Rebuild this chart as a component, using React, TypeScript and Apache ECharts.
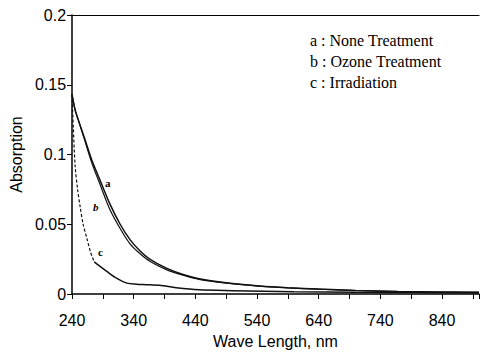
import React, { useEffect, useRef } from "react";
import * as echarts from "echarts";

const wlAB = [240, 245, 250, 260, 272, 285, 301, 318, 334, 350, 366, 393, 420, 446, 490, 543, 590, 640, 700, 769, 830, 900];
const seriesA = [0.143, 0.132, 0.125, 0.112, 0.096, 0.082, 0.065, 0.05, 0.039, 0.031, 0.025, 0.0185, 0.014, 0.011, 0.008, 0.0058, 0.0045, 0.0035, 0.0025, 0.0018, 0.0015, 0.0012];
const seriesB = [0.143, 0.132, 0.125, 0.111, 0.094, 0.079, 0.061, 0.047, 0.036, 0.029, 0.0235, 0.0175, 0.0135, 0.0105, 0.0078, 0.0056, 0.0044, 0.0034, 0.0025, 0.0018, 0.0014, 0.0011];
const wlCHead = [240, 242, 245, 249, 253, 258, 264, 270, 276];
const seriesCHead = [0.143, 0.12, 0.092, 0.075, 0.063, 0.05, 0.04, 0.03, 0.023];
const wlCTail = [276, 285, 297, 312, 329, 345, 360, 382, 409, 446, 500, 600, 700, 800, 900];
const seriesCTail = [0.023, 0.02, 0.016, 0.0114, 0.0078, 0.007, 0.0067, 0.0062, 0.0045, 0.003, 0.0024, 0.0016, 0.0012, 0.001, 0.0008];
const legendLines = ["a : None Treatment", "b : Ozone Treatment", "c : Irradiation"];
const curveTags = ["a", "b", "c"];

const zip = (xs: number[], ys: number[]) => xs.map((x, i) => [x, ys[i]]);

export default function App() {
  const ref = useRef<HTMLDivElement>(null);
  useEffect(() => {
    if (!ref.current) return;
    const chart = echarts.init(ref.current, undefined, { renderer: "svg" });
    const lineStyle = { color: "#111", width: 1.5 };
    const axisText = { color: "#000", fontFamily: "Liberation Sans, Arial, sans-serif", fontSize: 16 };
    chart.setOption({
      animation: false,
      backgroundColor: "#fff",
      grid: { left: 72, right: 1, top: 15, bottom: 58, containLabel: false },
      xAxis: [
        {
          type: "value",
          min: 240,
          max: 900,
          interval: 50,
          name: "Wave Length, nm",
          nameLocation: "middle",
          nameGap: 39,
          nameTextStyle: { ...axisText },
          axisLine: { lineStyle: { color: "#000", width: 1.5 } },
          axisTick: { show: true, length: 5, lineStyle: { color: "#000" } },
          axisLabel: {
            ...axisText,
            margin: 18,
            formatter: (v: number) => ((v - 240) % 100 === 0 ? String(v) : ""),
          },
          splitLine: { show: false },
        },
        {
          type: "value",
          position: "top",
          min: 240,
          max: 900,
          axisLine: { show: true, onZero: false, lineStyle: { color: "#000", width: 1.2 } },
          axisTick: { show: false },
          axisLabel: { show: false },
          splitLine: { show: false },
        },
      ],
      yAxis: {
        type: "value",
        min: 0,
        max: 0.2,
        interval: 0.05,
        name: "Absorption",
        nameLocation: "middle",
        nameGap: 47,
        nameTextStyle: { ...axisText },
        axisLine: { show: true, lineStyle: { color: "#000", width: 1.5 } },
        axisTick: { show: true, length: 5, lineStyle: { color: "#000" } },
        axisLabel: { ...axisText, margin: 6 },
        splitLine: { show: false },
      },
      series: [
        { type: "line", name: "a", data: zip(wlAB, seriesA), showSymbol: false, smooth: 0.3, lineStyle },
        { type: "line", name: "b", data: zip(wlAB, seriesB), showSymbol: false, smooth: 0.3, lineStyle: { ...lineStyle, width: 1.2 } },
        { type: "line", name: "c-head", data: zip(wlCHead, seriesCHead), showSymbol: false, smooth: 0.3, lineStyle: { ...lineStyle, width: 1.2, type: [3, 2] } },
        { type: "line", name: "c-tail", data: zip(wlCTail, seriesCTail), showSymbol: false, smooth: 0.3, lineStyle },
      ],
      graphic: [
        ...legendLines.map((t, i) => ({
          type: "text",
          left: 310,
          top: 32 + i * 21,
          style: { text: t, fill: "#000", font: "16px 'Liberation Serif', serif" },
        })),
        { type: "text", left: 105, top: 177, style: { text: curveTags[0], fill: "#000", font: "bold 11px 'Liberation Serif', serif" } },
        { type: "text", left: 93, top: 201, style: { text: curveTags[1], fill: "#000", font: "italic bold 11px 'Liberation Serif', serif" } },
        { type: "text", left: 98, top: 246, style: { text: curveTags[2], fill: "#000", font: "bold 11px 'Liberation Serif', serif" } },
      ],
    });
    return () => chart.dispose();
  }, []);
  return <div ref={ref} style={{ width: 482, height: 354, position: "absolute", left: 0, top: 0 }} />;
}
